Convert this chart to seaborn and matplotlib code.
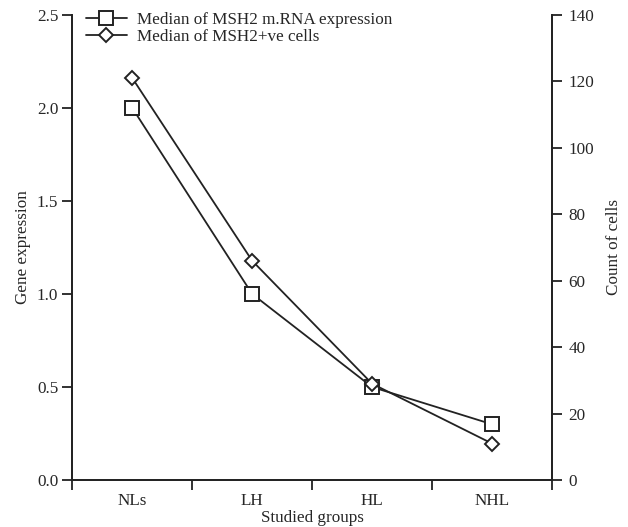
import pandas as pd
import seaborn as sns
import matplotlib.pyplot as plt
from matplotlib.ticker import FixedLocator

# Data
groups = ["NLs", "LH", "HL", "NHL"]
gene_expression = [2.0, 1.0, 0.5, 0.3]      # median MSH2 m.RNA expression (left axis)
cell_counts = [121, 66, 29, 11]             # median MSH2+ve cells (right axis)

df = pd.DataFrame({"group": groups, "expr": gene_expression, "cells": cell_counts})

sns.set_style("ticks")
plt.rcParams["font.family"] = ["Liberation Serif", "DejaVu Serif"]
plt.rcParams["font.size"] = 12.3

fig = plt.figure(figsize=(6.28, 5.27), dpi=100)
ax = fig.add_axes([0.115, 0.089, 0.764, 0.883])
ax2 = ax.twinx()

sns.lineplot(data=df, x="group", y="expr", ax=ax, color="#222222", lw=1.3,
             marker="s", markersize=10, markerfacecolor="white",
             markeredgecolor="#222222", markeredgewidth=1.4,
             label="Median of MSH2 m.RNA expression", legend=False)
sns.lineplot(data=df, x="group", y="cells", ax=ax2, color="#222222", lw=1.3,
             marker="D", markersize=7.5, markerfacecolor="white",
             markeredgecolor="#222222", markeredgewidth=1.4,
             label="Median of MSH2+ve cells", legend=False)

ax.set_xlim(-0.5, 3.5)
ax.set_ylim(0, 2.5)
ax2.set_ylim(0, 140)
ax.set_yticks([0.0, 0.5, 1.0, 1.5, 2.0, 2.5])
ax.set_yticklabels(["0.0", "0.5", "1.0", "1.5", "2.0", "2.5"])
ax2.set_yticks(range(0, 141, 20))

# category labels centred, tick marks between categories
ax.set_xticks(range(len(groups)))
ax.set_xticklabels(groups)
ax.tick_params(axis="x", which="major", length=0, pad=9)
ax.xaxis.set_minor_locator(FixedLocator([-0.5, 0.5, 1.5, 2.5, 3.5]))
ax.tick_params(axis="x", which="minor", length=7, width=1.3, color="#222222", direction="out")
ax.tick_params(axis="y", length=7, width=1.3, color="#222222", pad=3)
ax2.tick_params(axis="y", length=7, width=1.3, color="#222222", pad=5)

for a in (ax, ax2):
    a.spines["top"].set_visible(False)
    for s in ("left", "right", "bottom"):
        a.spines[s].set_linewidth(1.3)
        a.spines[s].set_color("#222222")

ax.set_xlabel("Studied groups", labelpad=1)
ax.set_ylabel("Gene expression", labelpad=4)
ax2.set_ylabel("Count of cells", labelpad=8)

h1, l1 = ax.get_legend_handles_labels()
h2, l2 = ax2.get_legend_handles_labels()
ax.legend(h1 + h2, l1 + l2, loc="upper left", frameon=False,
          bbox_to_anchor=(0.0, 1.035), handlelength=2.4, borderaxespad=0.4,
          labelspacing=0.05, handletextpad=0.6, fontsize=12.3)

fig.savefig("out.png", dpi=100)
